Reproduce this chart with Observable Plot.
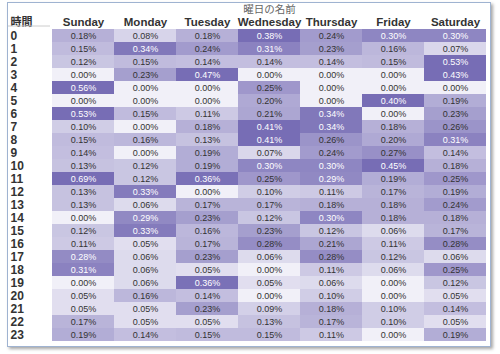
<!DOCTYPE html>
<html>
<head>
<meta charset="utf-8">
<script src="https://cdn.jsdelivr.net/npm/d3@7"></script>
<script src="https://cdn.jsdelivr.net/npm/@observablehq/plot@0.6"></script>
<style>
  html, body { margin: 0; padding: 0; background: #ffffff; }
  #wrap { position: relative; width: 500px; height: 354px; overflow: hidden; }
  #frame { position: absolute; left: 7px; top: 2px; width: 482px; height: 343px;
           border: 1px solid #9fb3d1; box-shadow: 2px 2px 3px rgba(0,0,0,0.35); background: #fff; }
  #chart { position: absolute; left: 0; top: 0; }
</style>
</head>
<body>
<div id="wrap"><div id="frame"></div><div id="chart"></div></div>
<script>
const days = ["Sunday", "Monday", "Tuesday", "Wednesday", "Thursday", "Friday", "Saturday"];
const hours = [0,1,2,3,4,5,6,7,8,9,10,11,12,13,14,15,16,17,18,19,20,21,22,23];
const sunday    = [0.18,0.15,0.12,0.00,0.56,0.00,0.53,0.10,0.15,0.14,0.13,0.69,0.13,0.13,0.00,0.12,0.11,0.2849,0.31,0.00,0.05,0.05,0.17,0.19];
const monday    = [0.08,0.34,0.15,0.23,0.00,0.00,0.15,0.00,0.16,0.00,0.12,0.12,0.33,0.06,0.29,0.33,0.05,0.06,0.06,0.06,0.16,0.05,0.05,0.14];
const tuesday   = [0.18,0.24,0.14,0.47,0.00,0.00,0.11,0.18,0.13,0.19,0.19,0.36,0.00,0.17,0.23,0.16,0.17,0.23,0.05,0.36,0.14,0.23,0.05,0.15];
const wednesday = [0.38,0.31,0.14,0.00,0.25,0.20,0.21,0.41,0.41,0.07,0.30,0.25,0.10,0.17,0.12,0.23,0.28,0.06,0.00,0.05,0.00,0.09,0.13,0.15];
const thursday  = [0.24,0.23,0.14,0.00,0.00,0.00,0.34,0.34,0.26,0.24,0.30,0.29,0.11,0.18,0.30,0.12,0.21,0.28,0.11,0.06,0.10,0.18,0.17,0.11];
const friday    = [0.30,0.16,0.15,0.00,0.00,0.40,0.00,0.18,0.20,0.27,0.45,0.19,0.17,0.18,0.18,0.06,0.11,0.12,0.06,0.00,0.00,0.10,0.10,0.00];
const saturday  = [0.30,0.07,0.53,0.43,0.00,0.19,0.23,0.26,0.31,0.14,0.18,0.25,0.19,0.24,0.18,0.17,0.28,0.06,0.25,0.12,0.05,0.14,0.05,0.19];
const series = [sunday, monday, tuesday, wednesday, thursday, friday, saturday];

const table = [];
days.forEach((day, i) => hours.forEach((hour, j) => table.push({day, hour, value: series[i][j]})));

const font = "'Liberation Sans', Arial, sans-serif";
const marginTop = 26.5, marginLeft = 50;

const chart = Plot.plot({
  width: 500,
  height: 354,
  marginTop,
  marginLeft,
  marginRight: 12,
  marginBottom: 11.5,
  style: {fontFamily: font, background: "transparent", overflow: "visible"},
  x: {domain: days, padding: 0, axis: null},
  y: {domain: hours, padding: 0, axis: null},
  color: {type: "linear", domain: [0, 0.37], range: ["#f1f0f8", "#776db5"], clamp: true},
  marks: [
    Plot.cell(table, {x: "day", y: "hour", fill: "value", inset: 0}),
    Plot.text(table, {x: "day", y: "hour", text: d => d.value.toFixed(2) + "%",
      fill: d => d.value >= 0.2845 ? "#ffffff" : "#333333", fontSize: 9}),
    Plot.axisX({anchor: "top", tickSize: 0, tickPadding: 1, fontSize: 11.5, fontWeight: "bold",
      fill: "#333333", label: null}),
    Plot.axisY({anchor: "left", tickSize: 0, tickPadding: 0, textAnchor: "start", dx: -40,
      fontSize: 12, fontWeight: "bold", fill: "#333333", label: null}),
    Plot.text(["曜日の名前"], {frameAnchor: "top", dy: -17, fontSize: 10.5, fill: "#666666",
      fontFamily: "'Noto Sans CJK JP', sans-serif", lineAnchor: "middle"}),
    Plot.text(["時間"], {frameAnchor: "top-left", dx: -40, dy: -1, textAnchor: "start",
      fontSize: 11, fontWeight: "bold", fill: "#333333", fontFamily: "'Noto Sans CJK JP', sans-serif",
      lineAnchor: "bottom"})
  ]
});

// thin header separator left of the cells
d3.select(chart).append("line")
  .attr("x1", 8).attr("x2", marginLeft).attr("y1", marginTop - 0.5).attr("y2", marginTop - 0.5)
  .attr("stroke", "#cccccc");

document.getElementById("chart").appendChild(chart);
</script>
</body>
</html>
